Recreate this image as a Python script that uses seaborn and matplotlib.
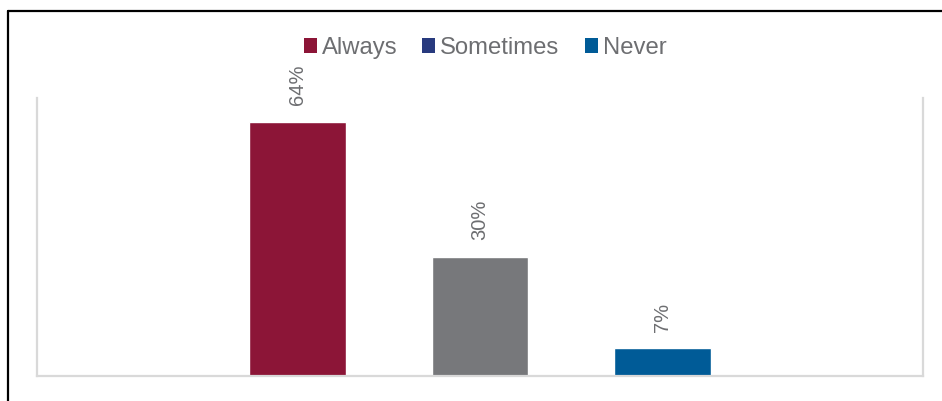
import pandas as pd
import seaborn as sns
import matplotlib.pyplot as plt
from matplotlib.patches import Patch
from matplotlib.lines import Line2D

# chart data
categories = ["Always", "Sometimes", "Never"]
shares = [0.64, 0.30, 0.07]
bar_colors = ["#8c1537", "#77787b", "#005b97"]
legend_colors = ["#8c1537", "#283a7e", "#005b97"]

sns.set_style("white")
plt.rcParams["font.family"] = ["Liberation Sans", "DejaVu Sans"]

text_color = "#6d6e71"
grid_color = "#d9d9d9"

df = pd.DataFrame({"answer": categories, "share": shares})

fig = plt.figure(figsize=(9.42, 4.01), dpi=100)
ax = fig.add_axes([37 / 942, 1 - 376 / 401, 886 / 942, 278 / 401])

sns.barplot(data=df, x="answer", y="share", hue="answer", palette=bar_colors,
            order=categories, hue_order=categories, width=0.53,
            saturation=1, legend=False, ax=ax)

ax.set_xlim(-1.427, 3.427)
ax.set_ylim(0, 0.70)
ax.set_xlabel("")
ax.set_ylabel("")
ax.set_xticks([])
ax.set_yticks([])

for side in ["left", "right", "bottom"]:
    ax.spines[side].set_color(grid_color)
    ax.spines[side].set_linewidth(1.6)
ax.spines["top"].set_visible(False)

# rotated value labels
for i, v in enumerate(shares):
    ax.annotate(f"{round(v * 100)}%", (i, v), xytext=(0, 12),
                textcoords="offset points", rotation=90,
                ha="center", va="bottom", fontsize=14.5, color=text_color)

handles = [Patch(facecolor=c, edgecolor="none", label=l)
           for c, l in zip(legend_colors, categories)]
fig.legend(handles=handles, loc="center", bbox_to_anchor=(485 / 942, 1 - 48 / 401),
           ncol=3, frameon=False, fontsize=17.2, labelcolor=text_color,
           handlelength=0.55, handleheight=0.55, handletextpad=0.2,
           columnspacing=1.05, borderpad=0)

# outer frame (left and top edges only visible)
fig.add_artist(Line2D([7.5 / 942, 7.5 / 942], [0, 1 - 10.5 / 401],
                      transform=fig.transFigure, color="black", lw=1.6))
fig.add_artist(Line2D([7.5 / 942, 1], [1 - 10.5 / 401, 1 - 10.5 / 401],
                      transform=fig.transFigure, color="black", lw=1.6))

fig.savefig("out.png", dpi=100)
